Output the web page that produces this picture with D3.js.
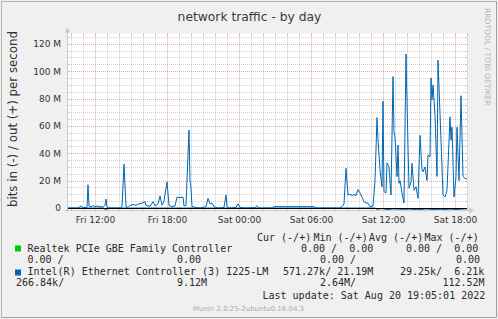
<!DOCTYPE html>
<html>
<head>
<meta charset="utf-8">
<script src="https://cdn.jsdelivr.net/npm/d3@7"></script>
<style>
  body { margin: 0; background: #f0f0f0; }
  svg { display: block; }
</style>
</head>
<body>
<div id="chart"></div>
<script>
// time window of the "by day" graph, 5 minute samples
const startTime = new Date(2022, 7, 19, 9, 40);
const endTime = new Date(2022, 7, 20, 19, 0);
const stepMinutes = 5;

// Intel I225-LM, out (+), Mbit/s, sampled at step index
const outStep = [0, 11, 14, 16, 20, 21, 22, 24, 26, 28, 30, 32, 34, 36, 38, 39, 40, 43, 53, 55, 57, 59, 61, 63, 66, 69, 72, 75, 78, 79,
  83, 86, 88, 91, 93, 95, 97, 100, 102, 105, 108, 110, 113, 116, 117, 119, 122, 123, 124, 125, 128, 133, 139, 141, 143, 145, 147, 151,
  157, 159, 160, 163, 169, 171, 173, 178, 188, 190, 192, 205, 207, 247, 249, 273, 275, 277, 279, 281, 283, 285, 287, 289, 291, 293,
  295, 297, 299, 301, 303, 306, 308, 310, 311, 313, 315, 316, 317, 319, 320, 322, 324, 326, 327, 328, 330, 331, 332, 333, 335, 337,
  339, 341, 342, 344, 345, 347, 349, 351, 353, 355, 356, 358, 360, 361, 363, 364, 365, 366, 368, 370, 371, 373, 376, 378, 380, 383,
  384, 385, 387, 389, 390, 392, 394, 396, 398, 400];
const outMbit = [0, 0, 1.5, 0.3, 0.5, 17, 1.5, 0.8, 1.8, 1.0, 1.5, 0.8, 1.2, 0.5, 2, 6.5, 0.5, 0, 0, 1, 32, 1, 0.5, 2, 2.5, 2, 3, 3.5, 4.6, 2,
  1.2, 4.6, 1.5, 3, 8.8, 2, 5, 19, 2, 1, 1.5, 8, 7.5, 8, 1.5, 2, 57, 20, 15, 1, 0.5, 0, 1, 7, 3, 3.5, 1, 0,
  0.5, 9.5, 1, 0, 0.5, 3, 0.5, 0, 0.3, 1.7, 0, 0, 1, 1, 0, 0, 1, 3, 29, 9.5, 10, 9, 10, 9, 13.5, 11,
  8, 4.6, 3.6, 3.6, 1, 1.5, 20, 66, 50, 28, 15.5, 78, 12, 11, 33, 30, 9.5, 96, 55, 52, 23, 46, 18, 20, 11, 3.6,
  112.5, 45, 14.4, 19, 32.6, 13, 15.5, 7, 53, 28, 26.5, 30, 20, 38.7, 37.4, 95, 79, 90, 68, 23, 108, 69, 9.5, 8, 13, 66.6,
  49.6, 59, 8, 23, 59, 20, 82, 23, 21.7, 21];

// Intel I225-LM, in (-), Mbit/s, drawn below zero
const inStep = [0, 37, 39, 41, 308, 310, 315, 320, 327, 335, 343, 351, 359, 367, 375, 383, 391, 400];
const inMbit = [0, 0, 1.8, 0, 0, 1, 0.4, 1.2, 0.6, 1, 0.8, 1.3, 0.7, 1.1, 0.9, 1.4, 1, 0.6];

const yTicks = [0, 20, 40, 60, 80, 100, 120];
const yTickLabels = ['0', '20 M', '40 M', '60 M', '80 M', '100 M', '120 M'];

const chartTitle = 'network traffic - by day';
const yAxisLabel = 'bits in (-) / out (+) per second';
const legendHeader = ['Cur (-/+)', 'Min (-/+)', 'Avg (-/+)', 'Max (-/+)'];
const seriesNames = ['Realtek PCIe GBE Family Controller', 'Intel(R) Ethernet Controller (3) I225-LM'];
const seriesColors = ['#00cc00', '#0066b3'];
const realtekValues = ['0.00 /  0.00', '0.00 /  0.00', '0.00 /', '0.00', '0.00 /', '0.00'];
const intelValues = ['571.27k/ 21.19M', '29.25k/  6.21k', '266.84k/', '9.12M', '2.64M/', '112.52M'];
const lastUpdate = 'Last update: Sat Aug 20 19:05:01 2022';
const watermark = 'Munin 2.0.25-2ubuntu0.16.04.3';
const rrdCredit = 'RRDTOOL / TOBI OETIKER';

const width = 498, height = 319;
const margin = { left: 67, right: 31, top: 33.5, bottom: 108.5 };
const plotRight = width - margin.right;
const plotBottom = height - margin.bottom;

const svg = d3.select('#chart').append('svg')
  .attr('width', width)
  .attr('height', height)
  .attr('xmlns', 'http://www.w3.org/2000/svg');

svg.append('rect').attr('width', width).attr('height', height).attr('fill', '#f0f0f0');
// 3d frame
svg.append('path').attr('d', `M1.5,${height - 1} V1.5 H${width - 1}`).attr('fill', 'none').attr('stroke', '#b4b4b4');
svg.append('path').attr('d', `M1.5,${height - 1.5} H${width - 1.5} V1.5`).attr('fill', 'none').attr('stroke', '#a0a0a0');

svg.append('rect')
  .attr('x', margin.left).attr('y', margin.top)
  .attr('width', plotRight - margin.left).attr('height', plotBottom - margin.top)
  .attr('fill', '#fff');

const xScale = d3.scaleTime().domain([startTime, endTime]).range([margin.left, plotRight]);
const yScale = d3.scaleLinear().domain([-1.83, 127.5]).range([plotBottom, margin.top]);
const stepTime = i => new Date(startTime.getTime() + i * stepMinutes * 60000);
const crisp = v => Math.round(v) + 0.5;

// grid
const grid = svg.append('g').attr('class', 'grid');
const hours = d3.timeHour.range(startTime, new Date(endTime.getTime() + 1));
const majorHours = hours.filter(d => d.getHours() % 6 === 0);
const minorY = d3.range(0, 126, 5);
const minorColor = 'rgba(140,140,140,0.42)';
const majorColor = 'rgba(170,60,60,0.42)';

grid.selectAll('.vmin').data(hours.filter(d => d.getHours() % 6 !== 0)).join('line')
  .attr('x1', d => crisp(xScale(d))).attr('x2', d => crisp(xScale(d)))
  .attr('y1', margin.top).attr('y2', plotBottom)
  .attr('stroke', minorColor).attr('stroke-dasharray', '1,1');
grid.selectAll('.hmin').data(minorY.filter(v => v % 20 !== 0)).join('line')
  .attr('x1', margin.left).attr('x2', plotRight)
  .attr('y1', d => crisp(yScale(d))).attr('y2', d => crisp(yScale(d)))
  .attr('stroke', minorColor).attr('stroke-dasharray', '1,1');
grid.selectAll('.vmaj').data(majorHours).join('line')
  .attr('x1', d => crisp(xScale(d))).attr('x2', d => crisp(xScale(d)))
  .attr('y1', margin.top).attr('y2', plotBottom)
  .attr('stroke', majorColor).attr('stroke-dasharray', '1,1');
grid.selectAll('.hmaj').data(yTicks.filter(v => v > 0)).join('line')
  .attr('x1', margin.left).attr('x2', plotRight)
  .attr('y1', d => crisp(yScale(d))).attr('y2', d => crisp(yScale(d)))
  .attr('stroke', majorColor).attr('stroke-dasharray', '1,1');

// little solid ticks at the canvas edges
grid.selectAll('.vtick').data(hours).join('path')
  .attr('d', d => `M${crisp(xScale(d))},${margin.top}v2M${crisp(xScale(d))},${plotBottom}v-2`)
  .attr('stroke', minorColor);
grid.selectAll('.htick').data(minorY).join('path')
  .attr('d', d => `M${margin.left},${crisp(yScale(d))}h2M${plotRight},${crisp(yScale(d))}h-2`)
  .attr('stroke', minorColor);

// data
svg.append('clipPath').attr('id', 'plot-clip').append('rect')
  .attr('x', margin.left).attr('y', margin.top)
  .attr('width', plotRight - margin.left).attr('height', plotBottom - margin.top);
const plot = svg.append('g').attr('clip-path', 'url(#plot-clip)');

const line = d3.line().x(d => xScale(d.t)).y(d => yScale(d.v));
const inData = inStep.map((s, i) => ({ t: stepTime(s), v: -inMbit[i] }));
const outData = outStep.map((s, i) => ({ t: stepTime(s), v: outMbit[i] }));

plot.append('path').datum(inData).attr('d', line)
  .attr('fill', 'none').attr('stroke', seriesColors[1]).attr('stroke-width', 1);
plot.append('path').datum(outData).attr('d', line)
  .attr('fill', 'none').attr('stroke', seriesColors[1]).attr('stroke-width', 1)
  .attr('stroke-linejoin', 'round');

// zero rule
svg.append('line')
  .attr('x1', margin.left).attr('x2', plotRight)
  .attr('y1', crisp(yScale(0))).attr('y2', crisp(yScale(0)))
  .attr('stroke', '#000');

// axes lines and arrows
const axisColor = '#c4cad6';
svg.append('path').attr('d', `M${margin.left - 2},${plotBottom}H${plotRight + 3}`).attr('stroke', axisColor);
svg.append('path').attr('d', `M${margin.left + 0.5},${plotBottom + 2}V${margin.top - 2}`).attr('stroke', axisColor);
svg.append('path').attr('d', `M${plotRight + 2},${plotBottom - 3}l5,3l-5,3z`).attr('fill', axisColor);
svg.append('path').attr('d', `M${margin.left - 2.5},${margin.top - 1}l3,-5l3,5z`).attr('fill', axisColor);

// tick labels via d3 axes
const yAxis = d3.axisLeft(yScale).tickValues(yTicks)
  .tickFormat((d, i) => yTickLabels[i]).tickSize(0).tickPadding(6);
const yAxisG = svg.append('g').attr('transform', `translate(${margin.left},0)`).call(yAxis);
yAxisG.select('.domain').remove();
yAxisG.selectAll('text').attr('font-family', 'DejaVu Sans').attr('font-size', 9).attr('fill', '#333');

const xAxis = d3.axisBottom(xScale).tickValues(majorHours)
  .tickFormat(d3.timeFormat('%a %H:%M')).tickSize(0).tickPadding(6);
const xAxisG = svg.append('g').attr('transform', `translate(0,${plotBottom})`).call(xAxis);
xAxisG.select('.domain').remove();
xAxisG.selectAll('text').attr('font-family', 'DejaVu Sans').attr('font-size', 9).attr('fill', '#333');

// title and labels
svg.append('text').attr('x', 249.5).attr('y', 21).attr('text-anchor', 'middle')
  .attr('font-family', 'DejaVu Sans').attr('font-size', 12.3).attr('fill', '#3a3a3a')
  .text(chartTitle);
svg.append('text').attr('transform', 'translate(16.5,119) rotate(-90)').attr('text-anchor', 'middle')
  .attr('font-family', 'DejaVu Sans').attr('font-size', 11.8).attr('fill', '#333')
  .text(yAxisLabel);
svg.append('text').attr('transform', 'translate(484.5,8) rotate(90)').attr('text-anchor', 'start')
  .attr('font-family', 'DejaVu Sans').attr('font-size', 7.6).attr('fill', '#b4b4b4')
  .text(rrdCredit);

// legend
const legend = svg.append('g').attr('font-family', 'DejaVu Sans Mono').attr('font-size', 10).attr('fill', '#2a2a2a');
const put = (x, y, s) => legend.append('text').attr('x', x).attr('y', y).attr('xml:space', 'preserve').text(s);

[257, 313.5, 369, 424.5].forEach((x, i) => put(x, 240.5, legendHeader[i]));

legend.append('rect').attr('x', 15).attr('y', 245.5).attr('width', 6).attr('height', 6).attr('fill', seriesColors[0]);
put(27.5, 251.7, seriesNames[0]);
put(301, 251.7, realtekValues[0]);
put(406, 251.7, realtekValues[1]);
put(27.5, 262.7, realtekValues[2]);
put(177, 262.7, realtekValues[3]);
put(320, 262.7, realtekValues[4]);
put(456, 262.7, realtekValues[5]);

legend.append('rect').attr('x', 15).attr('y', 269.5).attr('width', 6).attr('height', 6).attr('fill', seriesColors[1]);
put(27.5, 274.7, seriesNames[1]);
put(283, 274.7, intelValues[0]);
put(400, 274.7, intelValues[1]);
put(16, 286.3, intelValues[2]);
put(177, 286.3, intelValues[3]);
put(320, 286.3, intelValues[4]);
put(442.5, 286.3, intelValues[5]);

put(262.5, 299, lastUpdate);

svg.append('text').attr('x', 248.5).attr('y', 310.5).attr('text-anchor', 'middle')
  .attr('font-family', 'DejaVu Sans').attr('font-size', 7).attr('fill', '#aaa')
  .text(watermark);
</script>
</body>
</html>
